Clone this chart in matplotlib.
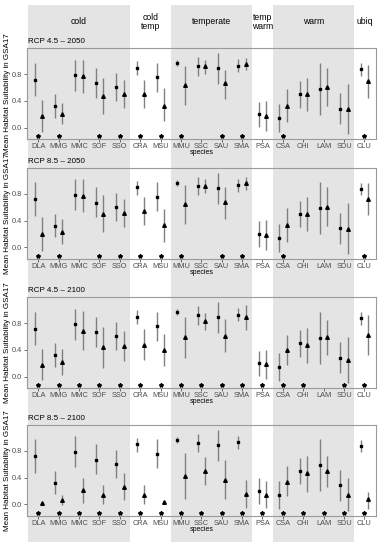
import matplotlib
matplotlib.use("Agg")
import matplotlib.pyplot as plt
import matplotlib.transforms as mtransforms
import numpy as np

plt.rcParams['font.family'] = ['Liberation Sans', 'DejaVu Sans']

# ---------------- data ----------------
species = ["DLA", "MMG", "MMC", "SOF", "SSO", "CRA", "MSU", "MMU", "SSC",
           "SAU", "SMA", "PSA", "CSA", "CHI", "LAM", "SDU", "CLU"]
groups = ["cold", "cold\ntemp", "temperate", "temp\nwarm", "warm", "ubiq"]
group_sizes = [5, 2, 4, 1, 4, 1]
group_shaded = [True, False, True, False, True, False]
panel_titles = ["RCP 4.5 \u2013 2050", "RCP 8.5 \u2013 2050",
                "RCP 4.5 \u2013 2100", "RCP 8.5 \u2013 2100"]
y_ticks = [0.0, 0.4, 0.8]

# present (squares)
present_mean = [0.72, 0.325, 0.785, 0.67, 0.61, 0.90, 0.76, 0.965, 0.92,
                0.887, 0.93, 0.20, 0.14, 0.505, 0.585, 0.285, 0.875]
present_lo = [0.475, 0.15, 0.555, 0.45, 0.40, 0.79, 0.54, 0.92, 0.78,
              0.655, 0.83, 0.01, -0.07, 0.30, 0.195, 0.05, 0.78]
present_hi = [0.975, 0.50, 1.02, 0.90, 0.815, 1.0, 0.975, 1.01, 1.055,
              1.12, 1.03, 0.39, 0.355, 0.70, 0.975, 0.515, 0.965]

# future (triangles)
rcp45_2050_mean = [0.18, 0.21, 0.77, 0.48, 0.50, 0.51, 0.33, 0.64, 0.92,
                   0.67, 0.955, 0.17, 0.33, 0.50, 0.61, 0.28, 0.70]
rcp45_2050_lo = [-0.06, 0.05, 0.52, 0.21, 0.29, 0.30, 0.10, 0.34, 0.81,
                 0.43, 0.86, -0.045, 0.09, 0.25, 0.32, -0.095, 0.45]
rcp45_2050_hi = [0.42, 0.37, 1.01, 0.75, 0.71, 0.72, 0.59, 0.93, 1.02,
                 0.86, 1.05, 0.40, 0.58, 0.74, 0.90, 0.65, 0.94]

rcp85_2050_mean = [0.20, 0.23, 0.775, 0.50, 0.52, 0.54, 0.33, 0.65, 0.915,
                   0.68, 0.965, 0.18, 0.33, 0.50, 0.61, 0.28, 0.72]
rcp85_2050_lo = [-0.05, 0.055, 0.53, 0.23, 0.31, 0.33, 0.085, 0.35, 0.81,
                 0.42, 0.855, -0.04, 0.085, 0.25, 0.32, -0.10, 0.48]
rcp85_2050_hi = [0.45, 0.42, 1.03, 0.79, 0.73, 0.75, 0.58, 0.94, 1.03,
                 0.905, 1.06, 0.41, 0.59, 0.755, 0.905, 0.66, 0.965]

rcp45_2100_mean = [0.175, 0.215, 0.685, 0.44, 0.46, 0.48, 0.40, 0.59, 0.83,
                   0.61, 0.895, 0.19, 0.40, 0.48, 0.59, 0.25, 0.63]
rcp45_2100_lo = [-0.05, 0.03, 0.40, 0.135, 0.24, 0.245, 0.165, 0.28, 0.705,
                 0.37, 0.705, -0.04, 0.175, 0.20, 0.32, -0.10, 0.33]
rcp45_2100_hi = [0.41, 0.41, 0.98, 0.745, 0.685, 0.715, 0.64, 0.89, 0.96,
                 0.86, 1.08, 0.40, 0.62, 0.725, 0.855, 0.60, 0.925]

rcp85_2100_mean = [0.025, 0.06, 0.215, 0.14, 0.265, 0.145, 0.04, 0.43, 0.50,
                   0.37, 0.16, 0.145, 0.34, 0.47, 0.50, 0.145, 0.075]
rcp85_2100_lo = [0.0, -0.015, 0.025, 0.0, 0.065, 0.005, 0.015, 0.085, 0.285,
                 0.08, -0.05, -0.05, 0.12, 0.185, 0.265, -0.10, -0.065]
rcp85_2100_hi = [0.05, 0.145, 0.39, 0.29, 0.47, 0.285, 0.065, 0.77, 0.71,
                 0.66, 0.365, 0.355, 0.57, 0.73, 0.73, 0.39, 0.185]

# species marked with an asterisk (significant change)
sig_45_2050 = ["DLA", "MMG", "SOF", "SSO", "CRA", "MSU", "MMU", "SAU", "SMA", "CSA", "CLU"]
sig_85_2050 = ["DLA", "MMG", "SOF", "SSO", "CRA", "MSU", "MMU", "SAU", "SMA", "CSA", "CLU"]
sig_45_2100 = [s for s in species if s != "LAM"]
sig_85_2100 = list(species)
sig_y = -0.125

future = [(rcp45_2050_mean, rcp45_2050_lo, rcp45_2050_hi, sig_45_2050),
          (rcp85_2050_mean, rcp85_2050_lo, rcp85_2050_hi, sig_85_2050),
          (rcp45_2100_mean, rcp45_2100_lo, rcp45_2100_hi, sig_45_2100),
          (rcp85_2100_mean, rcp85_2100_lo, rcp85_2100_hi, sig_85_2100)]

# ---------------- layout ----------------
W, H = 382, 550
fig = plt.figure(figsize=(W / 100, H / 100), dpi=100)
fig.patch.set_facecolor("white")

left_px, right_px = 26.7, 376.0
panel_tops = [48.3, 168.0, 297.3, 425.0]
panel_h = 90.6
xlim = (0.43, 17.57)
ylim = (-0.17, 1.19)
dodge = 0.18
shade_col = "#E4E4E4"
x = np.arange(1, len(species) + 1)

# background shading spanning whole figure height
bg = fig.add_axes([left_px / W, (H - 542) / H, (right_px - left_px) / W, (542 - 5) / H])
bg.set_zorder(0)
bg.set_xlim(*xlim)
bg.set_ylim(0, 1)
bg.axis("off")
start = 0.5
trans = mtransforms.blended_transform_factory(bg.transData, fig.transFigure)
for g, n, sh in zip(groups, group_sizes, group_shaded):
    end = start + n
    if sh:
        bg.axvspan(max(start, xlim[0]), min(end, xlim[1]), color=shade_col, lw=0)
    fig.text((start + end) / 2, 1 - 22 / H, g, transform=trans, ha="center",
             va="center", fontsize=6.2, color="black", linespacing=1.1)
    start = end

for i, (mean, lo, hi, sig) in enumerate(future):
    top = panel_tops[i]
    ax = fig.add_axes([left_px / W, 1 - (top + panel_h) / H,
                       (right_px - left_px) / W, panel_h / H])
    ax.set_zorder(1)
    ax.patch.set_alpha(0)
    ax.set_xlim(*xlim)
    ax.set_ylim(*ylim)

    ax.vlines(x - dodge, present_lo, present_hi, color="#808080", lw=1.0, zorder=2)
    ax.plot(x - dodge, present_mean, "s", color="black", ms=2.0, zorder=3)
    ax.vlines(x + dodge, lo, hi, color="#808080", lw=1.0, zorder=2)
    ax.plot(x + dodge, mean, "^", color="black", ms=2.6, zorder=3)

    sx = [species.index(s) + 1 for s in sig]
    ax.plot(sx, [sig_y] * len(sx), ls="none", marker="*", color="black", ms=3.0, zorder=3)

    ax.set_xticks(x)
    ax.set_xticklabels(species)
    ax.set_yticks(y_ticks)
    ax.set_yticklabels([f"{v:.1f}" for v in y_ticks])
    ax.tick_params(axis="both", length=2, width=0.5, color="#333333",
                   labelsize=5.3, labelcolor="#4D4D4D", pad=1.2)
    for sp in ax.spines.values():
        sp.set_color("#9A9A9A")
        sp.set_linewidth(0.8)

    ax.set_ylabel("Mean Habitat Suitability in GSA17", fontsize=5.8, va="center")
    ax.yaxis.set_label_coords((7.5 - left_px) / (right_px - left_px), 0.5)
    ax.set_xlabel("species", fontsize=5.0, va="center")
    ax.xaxis.set_label_coords(0.5, -14.0 / panel_h)

    ax.text(0.003, 1 + 6.6 / panel_h, panel_titles[i], transform=ax.transAxes,
            ha="left", va="center", fontsize=5.8, color="black")

fig.savefig("out.png", dpi=100, facecolor="white")
